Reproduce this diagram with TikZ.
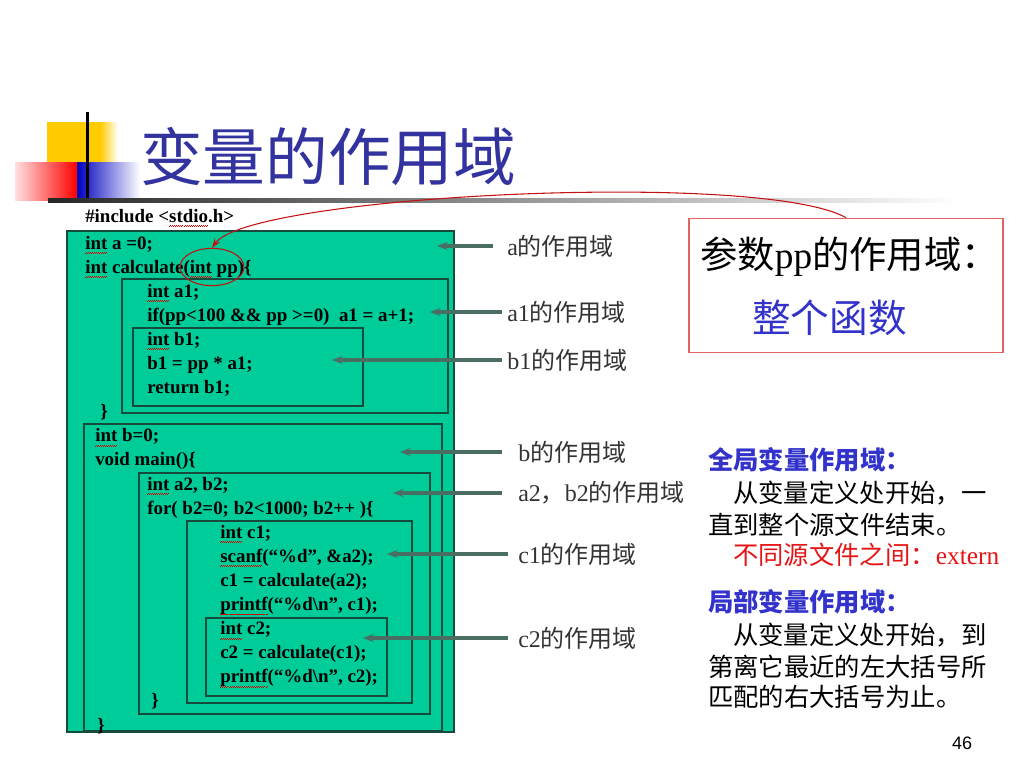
\documentclass[tikz,border=0pt]{standalone}
\usepackage{fontspec}
\setmainfont{Liberation Serif}
\setsansfont{Liberation Sans}
\newfontfamily\cjk{Noto Sans CJK SC}
\usetikzlibrary{shapes.geometric}
\usetikzlibrary{arrows.meta}
\definecolor{codegreen}{RGB}{0,204,153}
\definecolor{scopeline}{RGB}{20,75,60}
\definecolor{titleblue}{RGB}{51,51,160}
\definecolor{titleyellow}{RGB}{255,204,0}
\definecolor{noteblue}{RGB}{51,51,204}
\definecolor{notered}{RGB}{230,20,20}
\definecolor{boxred}{RGB}{225,100,100}
\definecolor{arrowgray}{RGB}{75,110,100}
\newsavebox\spellbox
\newcommand\spellmark[1]{\sbox\spellbox{#1}\rlap{\color{red!85!black}\hbox to \wd\spellbox{\xleaders\hbox{\rule[-3.5pt]{0.75pt}{0.55pt}\rule[-2.8pt]{0.75pt}{0.55pt}}\hfil}}\usebox\spellbox}
\tikzset{
	codeline/.style = {
		anchor=base west,
		inner sep=0pt,
		font=\fontsize{14.2}{16}\selectfont\bfseries
	},
	scopebox/.style = {
		draw=scopeline,
		line width=0.9pt
	},
	scopelabel/.style = {
		anchor=west,
		inner sep=0pt,
		text=black!80,
		font=\fontsize{18}{21}\selectfont
	},
	scopearrow/.style = {
		draw=arrowgray,
		line width=2.4pt,
		-{Stealth[length=8pt,width=6pt]}
	},
	noteline/.style = {
		anchor=west,
		inner sep=0pt,
		font=\cjk\fontsize{19}{22}\selectfont
	},
	notehead/.style = {
		noteline,
		text=noteblue,
		font=\cjk\bfseries\fontsize{19}{22}\selectfont
	}
}

\begin{document}
\begin{tikzpicture}[x=0.75pt,y=-0.75pt]
\useasboundingbox (0,0) rectangle (1024,768);

% title bar
\fill[titleyellow] (47,122) rectangle (100,162);
\shade[left color=titleyellow, right color=white] (100,122) rectangle (118,162);
\shade[left color=red!12, right color=red] (15,162) rectangle (77,200);
\shade[left color=blue!75!black, right color=white] (77,162) rectangle (140,198);
\fill[black] (86,112) rectangle (89,202);
\shade[left color=black!85, right color=white] (48,198) rectangle (960,202);
\node[anchor=west, inner sep=0pt, text=titleblue, font=\cjk\fontsize{47}{50}\selectfont] (title) at (140,157) {变量的作用域};

% code and its scopes
\node[codeline] (include) at (85,222) {\#include <\spellmark{stdio}.h>};
\draw[scopebox, fill=codegreen] (67,231) rectangle (454,732);
\draw[scopebox] (122,279) rectangle (448,413);
\draw[scopebox] (133,328) rectangle (363,406);
\draw[scopebox] (84,424) rectangle (442,731);
\draw[scopebox] (139,473) rectangle (430,714);
\draw[scopebox] (187,521) rectangle (412,703);
\draw[scopebox] (206,618) rectangle (387,696);
\foreach \x/\t [count=\i] in {
	85/{\spellmark{int} a =0;},
	85/{\spellmark{int} calculate(\spellmark{int} pp)\{},
	147/{\spellmark{int} a1;},
	147/{if(pp<100 \&\& pp >=0)\ \ a1 = a+1;},
	147/{\spellmark{int} b1;},
	147/{b1 = pp * a1;},
	147/{return b1;},
	100/{\}},
	95/{\spellmark{int} b=0;},
	95/{void main()\{},
	147/{\spellmark{int} a2, b2;},
	147/{for( b2=0; b2<1000; b2++ )\{},
	220/{\spellmark{int} c1;},
	220/{\spellmark{scanf}(“\%d”, \&a2);},
	220/{c1 = calculate(a2);},
	220/{\spellmark{printf}(“\%d\textbackslash n”, c1);},
	220/{\spellmark{int} c2;},
	220/{c2 = calculate(c1);},
	220/{\spellmark{printf}(“\%d\textbackslash n”, c2);},
	151/{\}},
	97/{\}}
}
	\node[codeline] (code\i) at (\x, 224.9+24.1*\i) {\t};

% labels and their arrows
\node[scopelabel] (alab) at (507,246) {a{\cjk 的作用域}};
\node[scopelabel] (aonelab) at (507,312) {a1{\cjk 的作用域}};
\node[scopelabel] (bonelab) at (507,360) {b1{\cjk 的作用域}};
\node[scopelabel] (blab) at (518,452) {b{\cjk 的作用域}};
\node[scopelabel] (abtwolab) at (518,493) {a2{\cjk ，}b2{\cjk 的作用域}};
\node[scopelabel] (conelab) at (518,554) {c1{\cjk 的作用域}};
\node[scopelabel] (ctwolab) at (518,638) {c2{\cjk 的作用域}};
\coordinate (atip) at (437,246);
\coordinate (aonetip) at (430,312);
\coordinate (bonetip) at (332,360);
\coordinate (btip) at (400,452);
\coordinate (abtwotip) at (393,493);
\coordinate (conetip) at (387,554);
\coordinate (ctwotip) at (363,638);
\foreach \lab/\tip/\gap in {alab/atip/10.5pt, aonelab/aonetip/4pt, bonelab/bonetip/4pt, blab/btip/12pt, abtwolab/abtwotip/12pt, conelab/conetip/7.5pt, ctwolab/ctwotip/7.5pt}
	\draw[scopearrow, shorten <=\gap] (\lab.west) -- (\tip);

% parameter callout
\node[ellipse, draw=notered!85!black, line width=0.8pt, minimum width=48pt, minimum height=28pt, inner sep=0pt] (ppmark) at (212,267) {};
\node[draw=boxred, line width=0.8pt, minimum width=235.5pt, minimum height=101pt, inner sep=0pt] (ppbox) at (846,285.5) {};
\node[anchor=west, inner sep=0pt, font=\cjk\fontsize{28}{32}\selectfont] (pptitle) at (700,257) {参数{\rmfamily pp}的作用域：};
\node[anchor=west, inner sep=0pt, text=noteblue, font=\cjk\fontsize{29}{33}\selectfont] (ppbody) at (752,318) {整个函数};
\draw[notered!85!black, line width=0.8pt, -{Stealth[length=7pt,width=5pt]}] (ppbox.north) .. controls (760,170) and (250,195) .. (ppmark.north);

% notes on the right
\node[notehead] (globalhead) at (708,460) {全局变量作用域：};
\node[noteline] (globalone) at (733,493) {从变量定义处开始，一};
\node[noteline] (globaltwo) at (708,525) {直到整个源文件结束。};
\node[noteline, text=notered] (globalthree) at (733,555) {不同源文件之间：{\rmfamily extern}};
\node[notehead] (localhead) at (708,602) {局部变量作用域：};
\node[noteline] (localone) at (733,635) {从变量定义处开始，到};
\node[noteline] (localtwo) at (708,667) {第离它最近的左大括号所};
\node[noteline] (localthree) at (708,697) {匹配的右大括号为止。};
\node[inner sep=0pt, font=\sffamily\fontsize{13.5}{16}\selectfont] (pagenum) at (962,743) {46};
\end{tikzpicture}
\end{document}
